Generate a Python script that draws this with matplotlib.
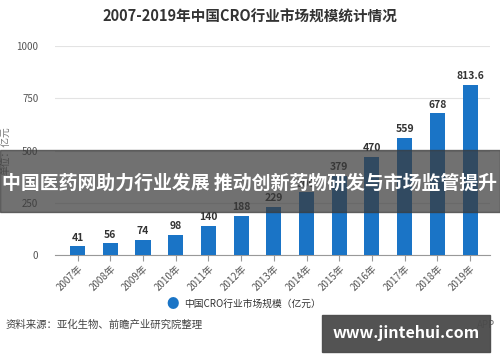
import matplotlib.pyplot as plt
from matplotlib.patches import Rectangle

plt.rcParams['font.family'] = ['Noto Sans CJK SC', 'DejaVu Sans']

years = ["2007年", "2008年", "2009年", "2010年", "2011年", "2012年", "2013年",
         "2014年", "2015年", "2016年", "2017年", "2018年", "2019年"]
values = [41, 56, 74, 98, 140, 188, 229, 300, 379, 470, 559, 678, 813.6]
value_labels = ["41", "56", "74", "98", "140", "188", "229", "300", "379",
                "470", "559", "678", "813.6"]
yticks = [0, 250, 500, 750, 1000]

bar_color = "#1a74c6"

fig = plt.figure(figsize=(5, 3.62), dpi=100)
ax = fig.add_axes([0.11, 0.2956, 0.87, 0.577])

x = list(range(len(years)))
ax.bar(x, values, width=0.46, color=bar_color, zorder=3)
for xi, v, lab in zip(x, values, value_labels):
    ax.text(xi, v + 18, lab, ha="center", va="bottom", fontsize=7.5,
            fontweight="bold", color="#333333", zorder=4)

ax.set_xlim(-0.69, 12.61)
ax.set_ylim(0, 1000)
ax.set_yticks(yticks)
ax.set_yticklabels([str(t) for t in yticks], fontsize=7, color="#555555")
ax.grid(axis="y", color="#e3e3e3", linewidth=0.8, zorder=0)
ax.set_xticks(x)
ax.set_xticklabels(years, rotation=45, ha="right", rotation_mode="anchor",
                   fontsize=7, color="#555555")
for s in ["top", "right", "left"]:
    ax.spines[s].set_visible(False)
ax.spines["bottom"].set_color("#999999")
ax.tick_params(axis="y", length=0, pad=12)
ax.tick_params(axis="x", length=4, color="#999999", pad=2)
ax.set_ylabel("单位：亿元", fontsize=7, color="#777777", labelpad=4)

fig.text(0.5, 0.953, "2007-2019年中国CRO行业市场规模统计情况", ha="center",
         va="center", fontsize=10.5, fontweight="bold", color="#333333")

# legend
fig.text(0.346, 0.16, "●", ha="center", va="center", fontsize=9, color=bar_color)
fig.text(0.368, 0.16, "中国CRO行业市场规模（亿元）", ha="left", va="center",
         fontsize=7, color="#333333")

fig.text(0.012, 0.103, "资料来源：亚化生物、前瞻产业研究院整理", ha="left",
         va="center", fontsize=7.5, color="#444444")

# overlay band
fig.patches.append(Rectangle((0, 1 - 212 / 362), 1, 62 / 362,
                             transform=fig.transFigure, color="#3a3a3a",
                             alpha=0.72, zorder=10))
fig.text(0.5, 1 - 183 / 362, "中国医药网助力行业发展 推动创新药物研发与市场监管提升",
         ha="center", va="center", fontsize=13.6, fontweight="bold",
         color="white", zorder=11)

# watermark box
fig.patches.append(Rectangle((322 / 500, 1 - 352 / 362), 168 / 500, 37 / 362,
                             transform=fig.transFigure, color="#4a4a4a",
                             alpha=0.95, zorder=10))
fig.text(406 / 500, 1 - 333 / 362, "www.jintehui.com", ha="center",
         va="center", fontsize=11.5, fontweight="bold", color="white", zorder=11)
fig.text(0.99, 0.103, "APP", ha="right", va="center",
         fontsize=7, color="#666666")

fig.savefig("out.png", dpi=100, facecolor="white")
